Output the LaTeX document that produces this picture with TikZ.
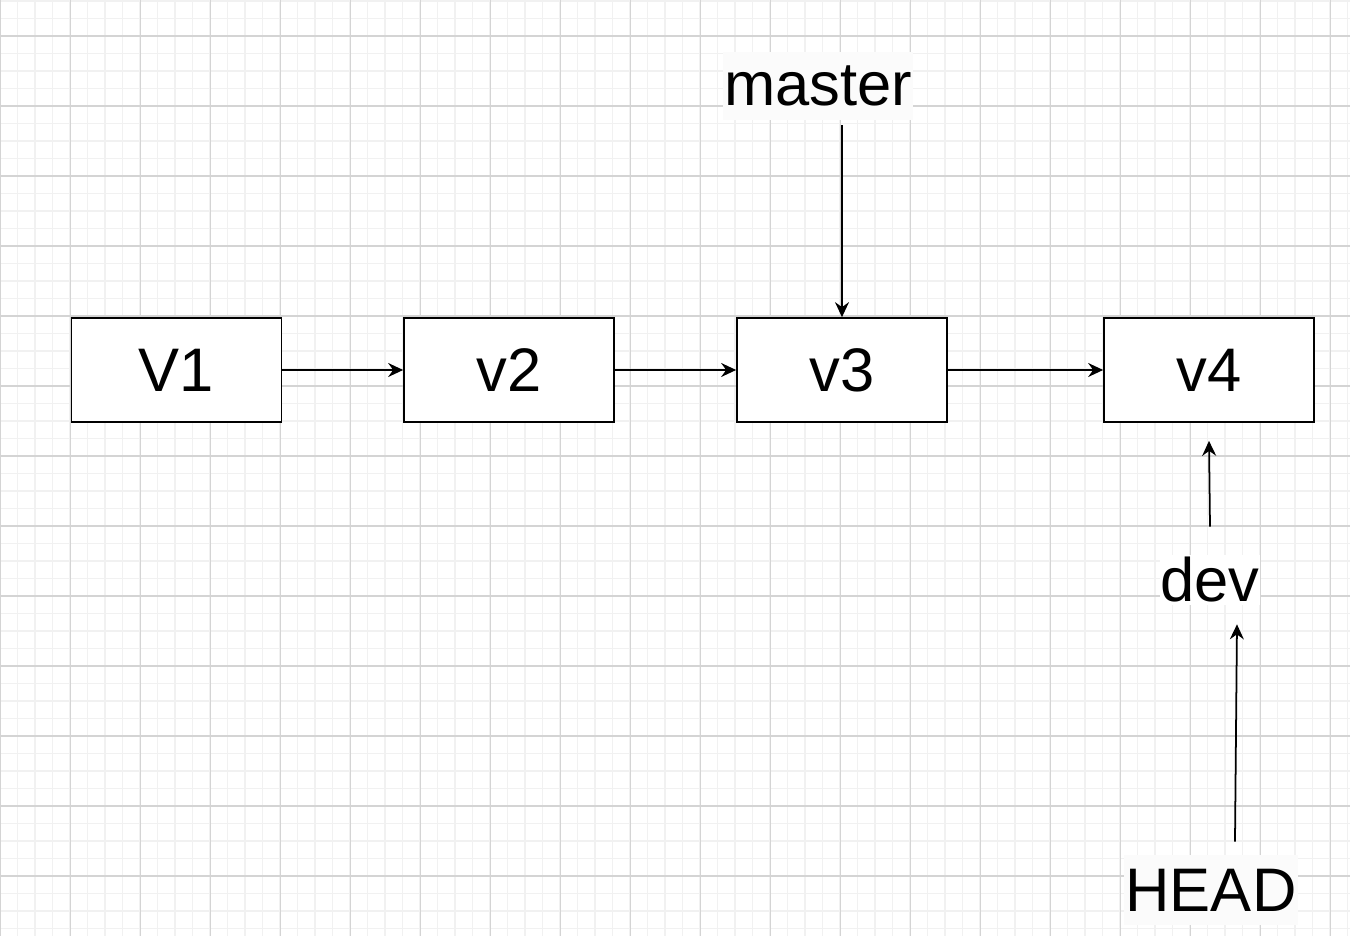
\documentclass[tikz,border=0pt]{standalone}
\usepackage{fontspec}
\setmainfont{Liberation Sans}
\usepackage{tikz}
\usetikzlibrary{arrows.meta}
\usetikzlibrary{calc}

\definecolor{gridminor}{RGB}{241,241,241}
\definecolor{gridmajor}{RGB}{212,212,212}
\definecolor{labelbg}{RGB}{251,251,251}

\tikzset{
	commit/.style={draw=black, fill=white, line width=1pt, minimum width=4.2cm, minimum height=2.08cm, inner sep=0pt, font=\fontsize{35}{42}\selectfont},
	branch/.style={fill=labelbg, inner sep=0pt, font=\fontsize{35}{42}\selectfont},
	link/.style={line width=1pt, -{Stealth[length=0.3cm, width=0.28cm, inset=0.1cm]}}
}

\begin{document}
\begin{tikzpicture}[x=0.02cm, y=-0.02cm]
		\useasboundingbox (0,0) rectangle (1350,936);
		\fill[white] (0,0) rectangle (1350,936);
	
		\begin{scope}
			\clip (0,0) rectangle (1350,936);
			\foreach \x in {0,17.5,...,1350}
				\draw[gridminor, line width=0.8pt] (\x,0) -- (\x,936);
			\foreach \y in {1,18.5,...,936}
				\draw[gridminor, line width=0.8pt] (0,\y) -- (1350,\y);
			\foreach \x in {0.7,70.7,...,1350}
				\draw[gridmajor, line width=0.6pt] (\x,0) -- (\x,936);
			\foreach \y in {36,106,...,936}
				\draw[gridmajor, line width=0.6pt] (0,\y) -- (1350,\y);
		\end{scope}
	
		\node[commit] (v1) at (176.5,370) {V1};
		\node[commit] (v2) at (509,370) {v2};
		\node[commit] (v3) at (842,370) {v3};
		\node[commit] (v4) at (1209,370) {v4};
	
		\draw[link] (v1) -- (v2);
		\draw[link] (v2) -- (v3);
		\draw[link] (v3) -- (v4);
	
		\node[branch, minimum width=3.8cm, minimum height=1.36cm] (master) at (818,86) {master};
		\node[branch, fill=white, minimum width=2cm, minimum height=1cm] (dev) at (1210,580) {dev};
		\node[branch, minimum width=3.48cm, minimum height=1.4cm] (head) at (1211,890) {HEAD};
	
		\draw[link] ($(master.south -| v3.north)+(0,-0.1cm)$) -- (v3.north);
		\draw[link] ($(dev.north)+(0,0.56cm)$) -- ($(v4.south)+(0,-0.36cm)$);
		\draw[link] ($(head.north)+(0.48cm,0.26cm)$) -- ($(dev.south)+(0.54cm,-0.38cm)$);
	\end{tikzpicture}
\end{document}
